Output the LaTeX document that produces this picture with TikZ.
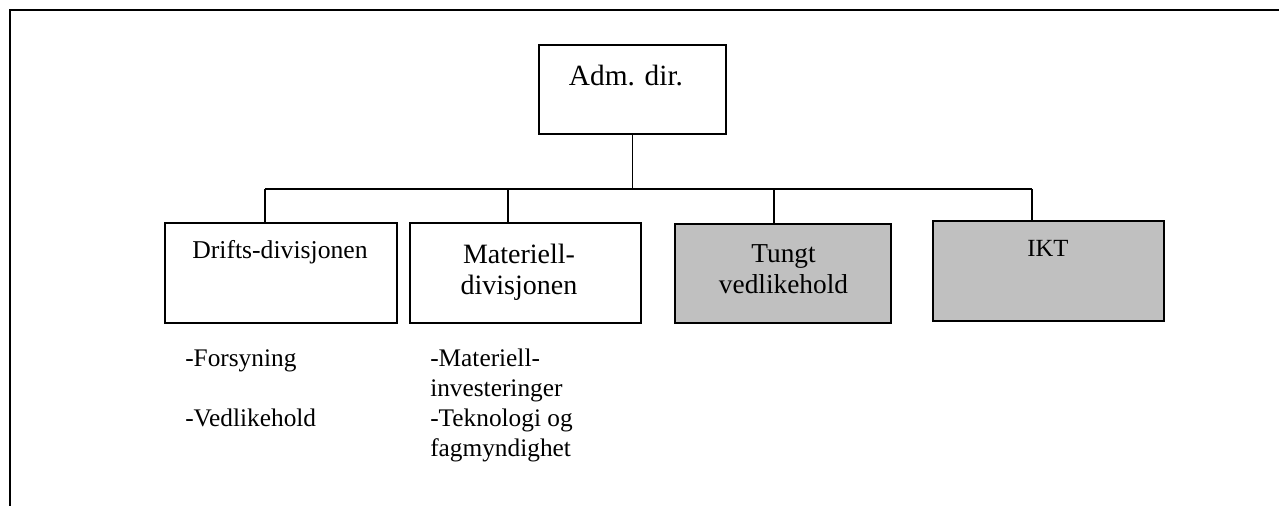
\documentclass[tikz,border=0pt]{standalone}
\usepackage{fontspec}
\setmainfont{Liberation Serif}
\usetikzlibrary{positioning}

\begin{document}
\begin{tikzpicture}[x=0.75pt, y=-0.75pt]
	\definecolor{unitGrey}{RGB}{192, 192, 192}
	\tikzstyle{unit}=[rectangle, draw, line width=1.5pt, inner sep=0pt]
	\tikzstyle{greyunit}=[unit, fill=unitGrey]
	\tikzstyle{caption}=[inner sep=0pt, anchor=base, align=center]
	\tikzstyle{tasks}=[inner sep=0pt, anchor=base west, align=left, font=\fontsize{19}{22.5}\selectfont]
	\tikzstyle{link}=[line width=1.1pt]

	\useasboundingbox (0,0) rectangle (1279,506);
	\draw [link] (10,506) -- (10,10) -- (1279,10);

	% units
	\node [unit, minimum width=140.25pt, minimum height=66.75pt] (adm) at (632.5,89.5) {};
	\node [unit, minimum width=174pt, minimum height=75pt] (drift) at (281,273) {};
	\node [unit, minimum width=173.25pt, minimum height=75pt] (materiell) at (525.5,273) {};
	\node [greyunit, minimum width=162pt, minimum height=74.25pt] (tungt) at (783,273.5) {};
	\node [greyunit, minimum width=173.25pt, minimum height=75pt] (ikt) at (1048.5,271) {};

	% captions, multi-line ones sit on their last line
	\node [caption, font=\fontsize{22}{26}\selectfont] (admText) at (626,86) {Adm. dir.};
	\node [caption, font=\fontsize{19.25}{23}\selectfont] (driftText) at (280,258) {Drifts-divisjonen};
	\node [caption, font=\fontsize{21}{23.25}\selectfont] (materiellText) at (519,295) {Materiell-\\divisjonen};
	\node [caption, font=\fontsize{20.5}{24}\selectfont] (tungtText) at (783.5,294) {Tungt\\vedlikehold};
	\node [caption, font=\fontsize{18.5}{22}\selectfont] (iktText) at (1048,257) {IKT};

	% tasks
	\node [tasks] (forsyning) at (185,366) {-Forsyning};
	\node [tasks] (vedlikehold) at (185,426) {-Vedlikehold};
	\node [tasks] (materiellTasks) at (430,456) {-Materiell-\\investeringer\\-Teknologi og\\fagmyndighet};

	% lines
	\coordinate (bar) at (633,189);
	\coordinate (j1) at (265,189);
	\coordinate (j2) at (508,189);
	\coordinate (j3) at (774,189);
	\coordinate (j4) at (1032,189);
	\draw [link] (adm.south) -- (adm.south |- bar);
	\draw [link] (j1) -- (j4);
	\draw [link] (j1) -- (j1 |- drift.north);
	\draw [link] (j2) -- (j2 |- materiell.north);
	\draw [link] (j3) -- (j3 |- tungt.north);
	\draw [link] (j4) -- (j4 |- ikt.north);
\end{tikzpicture}
\end{document}
